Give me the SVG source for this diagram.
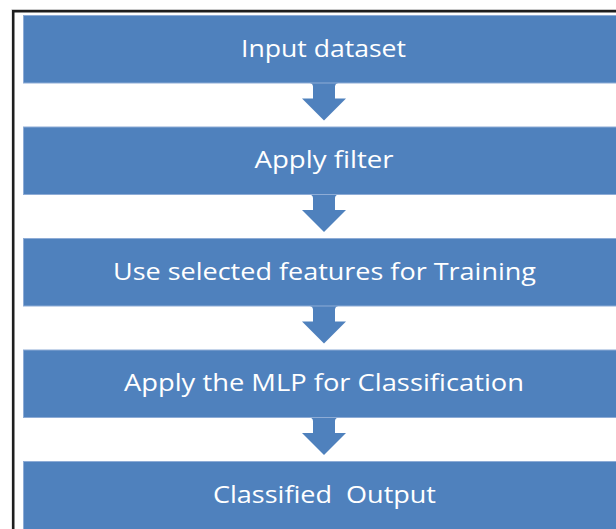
<svg xmlns="http://www.w3.org/2000/svg" width="616" height="529" viewBox="0 0 616 529">
  <defs>
    <style>
      .box { fill: #4F81BD; stroke: #8EACD6; stroke-width: 1; }
      .arrow { fill: #4F81BD; stroke: none; }
      .lbl { font-family: "Open Sans", "Liberation Sans", sans-serif; font-size: 23px; fill: #FFFFFF; text-anchor: middle; white-space: pre; }
    </style>
    <path id="arr" d="M306,0 Q313,0 313,4 L313,16 L302,16 L324,38 L346,16 L335,16 L335,4 Q335,0 342,0 Z"/>
  </defs>
  <rect width="616" height="529" fill="#FFFFFF"/>
  <rect x="12" y="9.5" width="620" height="540" fill="none" stroke="#C8C8C8" stroke-width="1"/>
  <rect x="13.25" y="11.25" width="620" height="540" fill="none" stroke="#1E1E1E" stroke-width="2.5"/>

  <g id="connectors">
    <use href="#arr" class="arrow" x="0" y="82.5"/>
    <use href="#arr" class="arrow" x="0" y="194"/>
    <use href="#arr" class="arrow" x="0" y="305.5"/>
    <use href="#arr" class="arrow" x="0" y="417"/>
  </g>

  <g id="n1">
    <rect class="box" x="23.5" y="15.5" width="610" height="67.5"/>
    <text class="lbl" x="323.5" y="56.7" textLength="165" lengthAdjust="spacingAndGlyphs">Input dataset</text>
  </g>
  <g id="n2">
    <rect class="box" x="23.5" y="127" width="610" height="67.5"/>
    <text class="lbl" x="324" y="168.2" textLength="139" lengthAdjust="spacingAndGlyphs">Apply filter</text>
  </g>
  <g id="n3">
    <rect class="box" x="23.5" y="238.5" width="610" height="67.5"/>
    <text class="lbl" x="324.5" y="279.7" textLength="423" lengthAdjust="spacingAndGlyphs">Use selected features for Training</text>
  </g>
  <g id="n4">
    <rect class="box" x="23.5" y="350" width="610" height="67.5"/>
    <text class="lbl" x="324" y="391.2" textLength="400" lengthAdjust="spacingAndGlyphs">Apply the MLP for Classification</text>
  </g>
  <g id="n5">
    <rect class="box" x="23.5" y="461.5" width="610" height="80"/>
    <text class="lbl" x="324.5" y="502.7" textLength="223" lengthAdjust="spacingAndGlyphs" xml:space="preserve">Classified  Output</text>
  </g>
</svg>
